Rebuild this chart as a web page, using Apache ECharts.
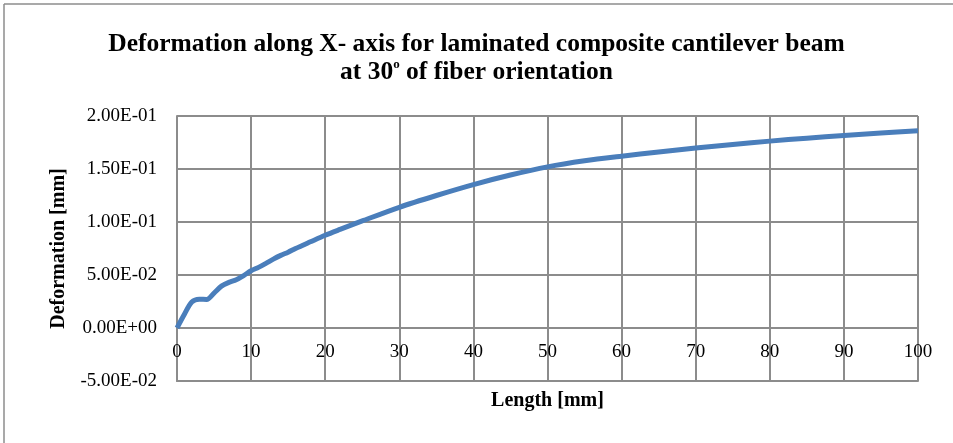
<!DOCTYPE html>
<html>
<head>
<meta charset="utf-8">
<script src="https://cdn.jsdelivr.net/npm/echarts@6/dist/echarts.min.js"></script>
<style>
  html, body { margin: 0; padding: 0; background: #fff; }
  #chart { width: 953px; height: 443px; }
</style>
</head>
<body>
<div id="chart"></div>
<script>
// Beam length positions [mm]
const lengthMm = [0, 1, 2, 3, 4, 5, 6, 7, 8, 9, 10, 11, 12, 13, 14, 15, 16, 18, 20, 22, 25,
  30, 35, 40, 45, 50, 55, 60, 65, 70, 75, 80, 85, 90, 95, 100];
// Deformation along X [mm]
const deformation = [0, 0.013, 0.0245, 0.0272, 0.027, 0.033, 0.0395, 0.043, 0.0455, 0.0495, 0.054,
  0.0572, 0.061, 0.065, 0.0685, 0.0715, 0.075, 0.0813, 0.0875, 0.093, 0.101,
  0.1139, 0.125, 0.1353, 0.1443, 0.1520, 0.1577, 0.1621, 0.1661, 0.1698, 0.1732,
  0.1763, 0.1791, 0.1817, 0.1840, 0.1860];
// Axis ranges and tick steps
const xRange = [0, 100, 10];
const yRange = [-0.05, 0.2, 0.05];

const titleLine1 = 'Deformation along X- axis for laminated composite cantilever beam';
const titleLine2 = 'at 30{sup|o} of fiber orientation';

const serif = '"Liberation Serif", "Times New Roman", serif';
const gridColor = '#8c8c8c';

const chart = echarts.init(document.getElementById('chart'), null, { renderer: 'canvas' });

chart.setOption({
  backgroundColor: '#ffffff',
  animation: false,
  title: {
    text: titleLine1 + '\n' + titleLine2,
    left: 'center',
    top: 25,
    textStyle: {
      fontFamily: serif,
      fontWeight: 'bold',
      fontSize: 25.5,
      color: '#000',
      lineHeight: 28,
      rich: {
        sup: {
          fontFamily: serif,
          fontWeight: 'bold',
          fontSize: 13,
          verticalAlign: 'top',
          padding: [0, 0, 12, 0],
          color: '#000'
        }
      }
    }
  },
  graphic: [
    { type: 'line', shape: { x1: 4, y1: 4, x2: 953, y2: 4 }, style: { stroke: '#8c8c8c', lineWidth: 1.5 } },
    { type: 'line', shape: { x1: 4, y1: 4, x2: 4, y2: 443 }, style: { stroke: '#8c8c8c', lineWidth: 1.5 } }
  ],
  grid: { left: 177, right: 35, top: 116, bottom: 62, containLabel: false, outerBoundsMode: 'none' },
  xAxis: {
    type: 'value',
    min: xRange[0], max: xRange[1], interval: xRange[2],
    name: 'Length [mm]',
    nameLocation: 'middle',
    nameGap: 10,
    nameTextStyle: { fontFamily: serif, fontWeight: 'bold', fontSize: 20, color: '#000', verticalAlign: 'top' },
    axisLine: { onZero: false, lineStyle: { color: gridColor, width: 2 } },
    axisTick: { show: false },
    // tick labels sit just beneath the zero gridline
    axisLabel: { fontFamily: serif, fontSize: 19, color: '#000', margin: -38 },
    splitLine: { show: true, lineStyle: { color: gridColor, width: 2 } }
  },
  yAxis: {
    type: 'value',
    min: yRange[0], max: yRange[1], interval: yRange[2],
    name: 'Deformation [mm]',
    nameLocation: 'middle',
    nameGap: 108,
    nameTextStyle: { fontFamily: serif, fontWeight: 'bold', fontSize: 20, color: '#000' },
    axisLine: { show: true, lineStyle: { color: gridColor, width: 2 } },
    axisTick: { show: false },
    axisLabel: {
      fontFamily: serif, fontSize: 19, color: '#000', margin: 20,
      formatter: function (v) {
        const s = v.toExponential(2).toUpperCase();
        return s.replace(/E([+-])(\d)$/, 'E$10$2');
      }
    },
    splitLine: { show: true, lineStyle: { color: gridColor, width: 2 } }
  },
  series: [{
    type: 'line',
    data: lengthMm.map((x, i) => [x, deformation[i]]),
    smooth: 0.3,
    showSymbol: false,
    lineStyle: { color: '#4a7ebb', width: 5 },
    itemStyle: { color: '#4a7ebb' }
  }]
});
</script>
</body>
</html>
